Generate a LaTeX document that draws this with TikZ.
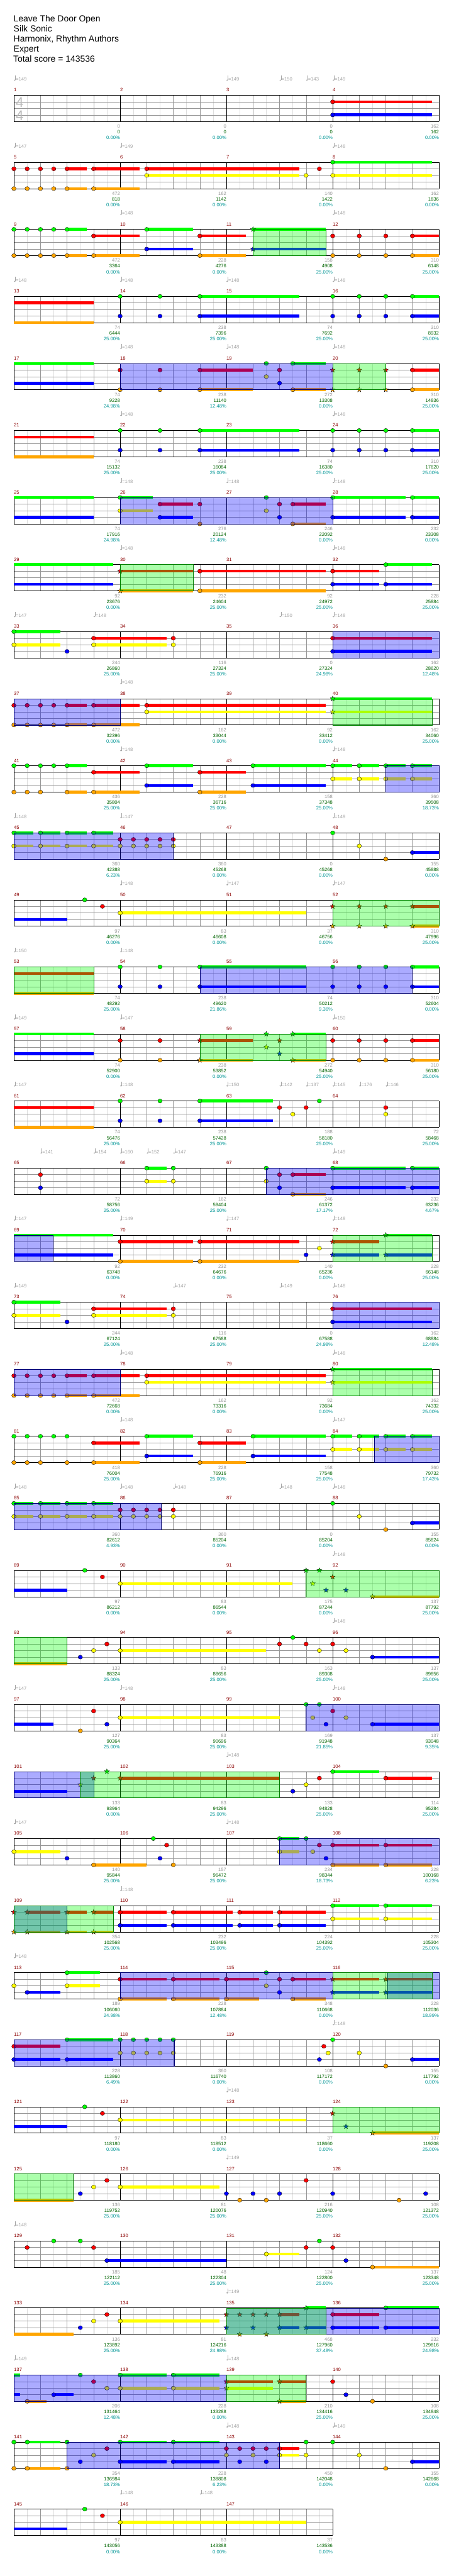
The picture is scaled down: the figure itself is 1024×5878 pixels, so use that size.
\documentclass[tikz,border=0pt]{standalone}
\usepackage{fontspec}
\setmainfont{Liberation Sans}
\definecolor{fret0}{RGB}{0,255,0}
\definecolor{fret1}{RGB}{255,0,0}
\definecolor{fret2}{RGB}{255,255,0}
\definecolor{fret3}{RGB}{0,0,255}
\definecolor{fret4}{RGB}{255,165,0}
\definecolor{barred}{RGB}{139,0,0}
\definecolor{tempogray}{RGB}{165,165,165}
\definecolor{gaingray}{RGB}{150,150,150}
\definecolor{sumgreen}{RGB}{0,100,0}
\definecolor{pctteal}{RGB}{0,150,150}
\definecolor{c8th}{RGB}{222,222,222}
\definecolor{cbeat}{RGB}{150,150,150}

\newcommand\staff[1][16]{%
  \pgfmathtruncatemacro\lastbeat{#1-1}%
  \pgfmathtruncatemacro\lastbar{#1/4-1}%
  \foreach \i in {1,...,#1} \draw[subline] (\i-0.5,0) -- (\i-0.5,4);
  \foreach \i in {1,...,\lastbeat} \draw[beatline] (\i,0) -- (\i,4);
  \foreach \i in {1,2,3} \draw[laneline] (0,\i) -- (#1,\i);
  \foreach \i in {0,...,\lastbar} {%
    \draw[barline] (4*\i,0) -- (4*\i,4);
    \pgfmathtruncatemacro\mnum{4*\rowno-3+\i}%
    \node[barnum] (m\mnum) at (4*\i,-0.53) {\mnum};}
  \draw[barline] (#1,0) -- (#1,4);
  \draw[barline] (0,0) -- (#1,0) (0,4) -- (#1,4);
}
\newcommand\sus[1]{\foreach \f/\s/\e in {#1} \fill[fret\f] (\s,\f-0.22) rectangle (\e,\f+0.22);}
\newcommand\gems[1]{\foreach \f/\s in {#1} \filldraw[gem, fill=fret\f] (\s,\f) ellipse [x radius=5pt, y radius=4.6pt];}
\newcommand\stars[1]{\foreach \f/\s in {#1} \filldraw[gem, fill=fret\f, shift={(\s,\f)}]
  (90:6pt) -- (126:2.5pt) -- (162:6pt) -- (198:2.5pt) -- (234:6pt) -- (270:2.5pt)
  -- (306:6pt) -- (342:2.5pt) -- (18:6pt) -- (54:2.5pt) -- cycle;}
\newcommand\odzone[2]{\filldraw[odfill] (#1,0) rectangle (#2,4);}
\newcommand\spzone[2]{\filldraw[spfill] (#1,0) rectangle (#2,4);}
\newcommand\tempos[1]{\foreach \s/\v [count=\k] in {#1} {%
  \fill[tempogray] ([xshift=1.8pt,yshift=1.4pt]\s,-2.2) ellipse [x radius=1.9pt, y radius=1.4pt];
  \draw[tempogray, line width=0.6pt] ([xshift=3.4pt,yshift=1.4pt]\s,-2.2) -- ++(0,10pt);
  \node[tempo] (t\rowno-\k) at ([xshift=4.3pt]\s,-2.2) {=\v};}}
\newcommand\scores[1]{\foreach \va/\vb/\vc [count=\k] in {#1} {%
  \node[gsc] (g\rowno-\k) at (4*\k,5) {\va};
  \node[csc] (c\rowno-\k) at (4*\k,5.867) {\vb};
  \node[psc] (p\rowno-\k) at (4*\k,6.733) {\vc\%};}}

\begin{document}
\begin{tikzpicture}[
    x=1pt, y=-1pt,
    subline/.style={draw=c8th, line width=0.7pt},
    beatline/.style={draw=cbeat, line width=0.7pt},
    laneline/.style={draw=cbeat, line width=0.8pt},
    barline/.style={draw=black, line width=0.9pt},
    barnum/.style={anchor=base west, inner sep=0pt, text=barred, font=\fontsize{11}{13}\selectfont},
    tempo/.style={anchor=base west, inner sep=0pt, text=tempogray, font=\fontsize{11}{13}\selectfont},
    gem/.style={draw=black, line width=0.5pt},
    odfill/.style={fill=fret3, fill opacity=0.33, draw=fret3!45!black, line width=0.8pt},
    spfill/.style={fill=fret0, fill opacity=0.33, draw=fret0!50!black, line width=0.8pt},
    gsc/.style={anchor=base east, inner sep=0pt, text=gaingray, font=\fontsize{11}{13}\selectfont},
    csc/.style={anchor=base east, inner sep=0pt, text=sumgreen, font=\fontsize{11}{13}\selectfont},
    psc/.style={anchor=base east, inner sep=0pt, text=pctteal, font=\fontsize{11}{13}\selectfont},
    tsig/.style={inner sep=0pt, text=gray!55, font=\fontsize{32}{32}\selectfont},
    headline/.style={anchor=base west, inner sep=0pt, font=\fontsize{20}{24}\selectfont},
    chartrow/.style={xshift=31.7pt, yshift={-(217.3+153*(#1-1))*1pt}, x=60.62pt, y=-15pt,
      /utils/exec={\def\rowno{#1}}},
  ]
  \useasboundingbox (0,0) rectangle (1024,5878);
  \fill[white] (0,0) rectangle (1024,5878);

  \node[headline] (song) at (31,49.3) {Leave The Door Open};
  \node[headline] (artist) at (31,72.3) {Silk Sonic};
  \node[headline] (charter) at (31,95.3) {Harmonix, Rhythm Authors};
  \node[headline] (level) at (31,118.3) {Expert};
  \node[headline] (total) at (30,141.5) {Total score = 143536};

  \begin{scope}[chartrow=1]
    \staff
    \node[tsig] (ts1) at (0.22,1.07) {4};
    \node[tsig] (ts2) at (0.22,3.07) {4};
    \sus{1/12/15.74,3/12/15.74}
    \gems{1/12,3/12}
    \tempos{0/149,8/149,10/150,11/143,12/149}
    \scores{0/0/0.00,0/0/0.00,0/0/0.00,162/162/0.00}
  \end{scope}

  \begin{scope}[chartrow=2]
    \staff
    \sus{1/2/2.74,1/3/4.74,1/5/10.74,4/2/2.74,4/3/4.74,2/5/10.74,2/12/15.74,0/12/15.74}
    \gems{1/0,1/0.5,1/1,1/1.5,1/2,1/3,1/5,1/11.5,4/0,4/0.5,4/1,4/1.5,4/2,4/3,2/5,2/11,2/12,0/12}
    \tempos{0/147,4/149,12/148}
    \scores{472/818/0.00,162/1142/0.00,140/1422/0.00,162/1836/0.00}
  \end{scope}

  \begin{scope}[chartrow=3]
    \staff
    \sus{0/2/2.74,0/5/6.74,0/9/11.74,1/3/4.74,1/7/8.74,1/15/16,3/5/6.74,3/9/11.74,4/2/2.74,4/3/4.74,4/7/8.74,4/15/16}
    \gems{0/0,0/0.5,0/1,0/1.5,0/2,0/5,1/3,1/7,1/12,1/13,1/14,1/15,3/5,4/0,4/0.5,4/1,4/1.5,4/2,4/3,4/7,4/12,4/13,4/14,4/15}
    \stars{0/9,3/9}
    \spzone{9}{11.74}
    \tempos{4/148,12/148}
    \scores{472/3364/0.00,228/4276/0.00,158/4908/25.00,310/6148/25.00}
  \end{scope}

  \begin{scope}[chartrow=4]
    \staff
    \sus{1/0/3,4/0/3,0/7/10.74,0/15/16,3/7/10.74,3/15/16}
    \gems{0/4,0/5.5,0/7,0/12,0/13,0/14,0/15,3/4,3/5.5,3/7,3/12,3/13,3/14,3/15}
    \tempos{0/148,4/148,8/148,12/148}
    \scores{74/6444/25.00,238/7396/25.00,74/7692/25.00,310/8932/25.00}
  \end{scope}

  \begin{scope}[chartrow=5]
    \staff
    \sus{0/0/3,3/0/3,1/7/9,4/7/9,0/10.5/11.74,4/10.5/11.74,1/15/16,4/15/16}
    \gems{1/4,1/5.5,1/7,1/10,1/15,4/4,4/5.5,4/7,4/10.5,4/15,0/9.5,0/10.5,2/9.5,3/10}
    \stars{1/12,1/13,1/14,4/12,4/13,4/14}
    \odzone{4}{12}
    \spzone{12}{14}
    \tempos{4/148,8/148,12/148}
    \scores{74/9228/24.98,238/11140/12.48,272/13308/0.00,310/14836/25.00}
  \end{scope}

  \begin{scope}[chartrow=6]
    \staff
    \sus{1/0/3,4/0/3,0/7/10.74,0/15/16,3/7/10.74,3/15/16}
    \gems{0/4,0/5.5,0/7,0/12,0/13,0/14,0/15,3/4,3/5.5,3/7,3/12,3/13,3/14,3/15}
    \tempos{4/148,12/148}
    \scores{74/15132/25.00,238/16084/25.00,74/16380/25.00,310/17620/25.00}
  \end{scope}

  \begin{scope}[chartrow=7]
    \staff
    \sus{0/0/3,3/0/3,0/4/5.24,2/4/5.24,1/5.5/6.74,3/5.5/6.74,1/10.5/11.74,4/10.5/11.74,0/12/14.74,3/12/14.74,0/15/16,3/15/16}
    \gems{0/4,0/9.5,0/12,0/15,2/4,2/9.5,1/5.5,1/7,1/10,1/10.5,3/5.5,3/10,3/12,3/15,4/7,4/10.5}
    \odzone{4}{12}
    \tempos{4/148,8/148,12/148}
    \scores{74/17916/24.98,276/20124/12.48,246/22092/0.00,232/23308/0.00}
  \end{scope}

  \begin{scope}[chartrow=8]
    \staff
    \sus{0/0/3.74,3/0/3.74,1/4/6.74,4/4/6.74,1/7/11.74,4/7/11.74,1/12/13.74,3/12/13.74,0/14/15.74,3/14/15.74}
    \gems{1/7,4/7,1/12,3/12,0/14,3/14}
    \stars{1/4,4/4}
    \spzone{4}{6.74}
    \tempos{4/148,12/148}
    \scores{92/23676/0.00,232/24604/25.00,92/24972/25.00,228/25884/25.00}
  \end{scope}

  \begin{scope}[chartrow=9]
    \staff
    \sus{0/0/1.74,2/0/1.74,2/3/5.74,1/3/5.74,1/12/15.74,3/12/15.74}
    \gems{0/0,2/0,3/2,1/3,2/3,1/6,2/6,1/12,3/12}
    \odzone{12}{16}
    \tempos{0/147,3/148,10/150,12/148}
    \scores{244/26860/25.00,116/27324/25.00,0/27324/24.98,162/28620/12.48}
  \end{scope}

  \begin{scope}[chartrow=10]
    \staff
    \sus{1/2/2.74,1/3/4.74,1/5/11.74,4/2/2.74,4/3/4.74,2/5/11.74,0/12/15.74,2/12/15.74}
    \gems{1/0,1/0.5,1/1,1/1.5,1/2,1/3,1/5,4/0,4/0.5,4/1,4/1.5,4/2,4/3,2/5}
    \stars{0/12,2/12}
    \odzone{0}{4}
    \spzone{12}{15.74}
    \tempos{4/148}
    \scores{472/32396/0.00,162/33044/0.00,92/33412/0.00,162/34060/25.00}
  \end{scope}

  \begin{scope}[chartrow=11]
    \staff
    \sus{0/2/2.74,0/5/6.74,0/9/11.74,0/12/12.74,0/13/13.74,0/14/14.74,0/15/15.74,1/3/4.74,1/7/8.74,2/12/12.74,2/13/13.74,2/14/14.74,2/15/15.74,3/5/6.74,3/9/11.74,4/2/2.74,4/3/4.74,4/7/8.74}
    \gems{0/0,0/0.5,0/1,0/1.5,0/2,0/5,0/9,0/12,0/13,0/14,0/15,1/3,1/7,2/12,2/13,2/14,2/15,3/5,3/9,4/0,4/0.5,4/1,4/2,4/3,4/7}
    \odzone{14}{16}
    \tempos{4/148,12/148}
    \scores{436/35804/25.00,228/36716/25.00,158/37348/25.00,360/39508/18.73}
  \end{scope}

  \begin{scope}[chartrow=12]
    \staff
    \sus{0/0/0.74,0/1/1.74,0/2/2.74,0/3/3.74,2/0/0.74,2/1/1.74,2/2/2.74,2/3/3.74,3/15/16}
    \gems{0/0,0/1,0/2,0/3,0/12,2/0,2/1,2/2,2/3,2/4,2/4.5,2/5,2/5.5,2/6,2/13,1/4,1/4.5,1/5,1/5.5,1/6,3/15,4/14}
    \odzone{0}{6}
    \tempos{0/148,4/147,12/149}
    \scores{360/42388/6.23,360/45268/0.00,0/45268/0.00,155/45888/0.00}
  \end{scope}

  \begin{scope}[chartrow=13]
    \staff
    \sus{3/0/2,2/4/11,1/15/16,4/15/16}
    \gems{0/2.667,1/3.333,2/4}
    \stars{1/12,1/13,1/14,1/15,4/12,4/13,4/14,4/15}
    \spzone{12}{16}
    \tempos{4/148,8/147,12/147}
    \scores{97/46276/0.00,83/46608/0.00,37/46756/0.00,310/47996/25.00}
  \end{scope}

  \begin{scope}[chartrow=14]
    \staff
    \sus{1/0/3,4/0/3,0/7/11,3/7/11,0/15/16,3/15/16}
    \gems{0/4,0/5.5,0/7,0/12,0/13,0/14,0/15,3/4,3/5.5,3/7,3/12,3/13,3/14,3/15}
    \spzone{0}{3}
    \odzone{7}{15}
    \tempos{0/150,4/148}
    \scores{74/48292/25.00,238/49620/21.86,74/50212/9.36,310/52604/0.00}
  \end{scope}

  \begin{scope}[chartrow=15]
    \staff
    \sus{0/0/3,3/0/3,1/7/9,4/7/9,0/10.5/11.74,4/10.5/11.74,1/15/16,4/15/16}
    \gems{1/4,1/5.5,1/12,1/13,1/14,1/15,4/4,4/5.5,4/12,4/13,4/14,4/15}
    \stars{1/7,4/7,0/9.5,2/9.5,1/10,3/10,0/10.5,4/10.5}
    \spzone{7}{11.74}
    \tempos{0/149,4/147,12/150}
    \scores{74/52900/0.00,238/53852/0.00,272/54940/25.00,310/56180/25.00}
  \end{scope}

  \begin{scope}[chartrow=16]
    \staff
    \sus{1/0/3,4/0/3,0/7/9.74,3/7/9.74}
    \gems{0/4,0/5.5,0/7,0/11.5,3/4,3/5.5,3/7,1/10,1/11,1/14,2/10.5,2/14}
    \tempos{0/147,4/148,8/150,10/142,11/137,12/145,13/176,14/146}
    \scores{74/56476/25.00,238/57428/25.00,188/58180/25.00,72/58468/25.00}
  \end{scope}

  \begin{scope}[chartrow=17]
    \staff
    \sus{0/5/5.74,2/5/5.74,1/10.5/11.74,4/10.5/11.74,0/12/14.74,3/12/14.74,0/15/16,3/15/16}
    \gems{1/1,3/1,0/5,0/6,0/9.5,0/12,0/15,2/5,2/6,2/9.5,1/10,1/10.5,3/10,3/12,3/15,4/10.5}
    \odzone{9.5}{16}
    \tempos{1/141,3/154,4/160,5/152,6/147,12/149}
    \scores{72/58756/25.00,162/59404/25.00,246/61372/17.17,232/63236/4.67}
  \end{scope}

  \begin{scope}[chartrow=18]
    \staff
    \sus{0/0/3.74,3/0/3.74,1/4/6.74,1/7/10.74,4/4/6.74,4/7/10.74,1/12/13.74,3/12/13.74,3/14/15.74,0/14/15.74}
    \gems{1/4,1/7,4/4,4/7,3/11,2/11.5}
    \stars{1/12,3/12,3/14,0/14}
    \odzone{0}{1.48}
    \spzone{12}{15.74}
    \tempos{0/147,4/149,8/147,12/148}
    \scores{92/63748/0.00,232/64676/0.00,140/65236/0.00,228/66148/25.00}
  \end{scope}

  \begin{scope}[chartrow=19]
    \staff
    \sus{0/0/1.74,2/0/1.74,2/3/5.74,1/3/5.74,1/12/15.74,3/12/15.74}
    \gems{0/0,2/0,3/2,1/3,2/3,1/6,2/6,1/12,3/12}
    \odzone{12}{16}
    \tempos{0/149,6/147,10/149,12/148}
    \scores{244/67124/25.00,116/67588/25.00,0/67588/24.98,162/68884/12.48}
  \end{scope}

  \begin{scope}[chartrow=20]
    \staff
    \sus{1/2/2.74,1/3/4.74,1/5/11.74,4/2/2.74,4/3/4.74,2/5/11.74,0/12/15.74,2/12/15.74}
    \gems{1/0,1/0.5,1/1,1/1.5,1/2,1/3,1/5,4/0,4/0.5,4/1,4/1.5,4/2,4/3,2/5}
    \stars{0/12,2/12}
    \odzone{0}{4}
    \spzone{12}{15.74}
    \tempos{4/148,12/148}
    \scores{472/72668/0.00,162/73316/0.00,92/73684/0.00,162/74332/25.00}
  \end{scope}

  \begin{scope}[chartrow=21]
    \staff
    \sus{0/5/6.74,0/9/11.74,0/12/12.74,0/13/13.74,0/14/14.74,0/15/15.74,1/3/4.74,1/7/8.74,2/12/12.74,2/13/13.74,2/14/14.74,2/15/15.74,3/5/6.74,3/9/11.74,4/3/4.74,4/7/8.74}
    \gems{0/0,0/0.5,0/1,0/1.5,0/2,0/5,0/9,0/12,0/13,0/14,0/15,1/3,1/7,2/12,2/13,2/14,2/15,3/5,3/9,4/0,4/0.5,4/1,4/2,4/3,4/7}
    \odzone{13.56}{16}
    \tempos{4/148,12/147}
    \scores{418/76004/25.00,228/76916/25.00,158/77548/25.00,360/79732/17.43}
  \end{scope}

  \begin{scope}[chartrow=22]
    \staff
    \sus{0/0/0.74,0/1/1.74,0/2/2.74,0/3/3.74,2/0/0.74,2/1/1.74,2/2/2.74,2/3/3.74,3/15/16}
    \gems{0/0,0/1,0/2,0/3,0/12,2/0,2/1,2/2,2/3,2/4,2/4.5,2/5,2/5.5,2/6,2/13,1/4,1/4.5,1/5,1/5.5,1/6,3/15,4/14}
    \odzone{0}{5.55}
    \tempos{0/148,4/148,6/148,10/148,12/148}
    \scores{360/82612/4.93,360/85204/0.00,0/85204/0.00,155/85824/0.00}
  \end{scope}

  \begin{scope}[chartrow=23]
    \staff
    \sus{3/0/2,2/4/10.49,4/13.5/16}
    \gems{0/2.667,1/3.333,2/4}
    \stars{0/11,0/11.5,2/11.25,1/12,3/11.75,3/12.5,4/13.5}
    \spzone{11}{16}
    \tempos{12/148}
    \scores{97/86212/0.00,83/86544/0.00,175/87244/0.00,137/87792/25.00}
  \end{scope}

  \begin{scope}[chartrow=24]
    \staff
    \sus{4/0/2,2/4/9.49,3/13.5/16}
    \gems{3/2.5,2/3,1/3.5,2/4,1/10,0/10.5,1/11,2/11.5,1/12,2/12.5,3/13.5}
    \spzone{0}{2}
    \tempos{12/148}
    \scores{133/88324/25.00,83/88656/25.00,163/89308/25.00,137/89856/25.00}
  \end{scope}

  \begin{scope}[chartrow=25]
    \staff
    \sus{3/0/1.49,2/4/10,3/13.5/16}
    \gems{4/2.5,1/3,3/3.5,2/4,0/11,0/11.5,2/11.25,2/12.5,1/12,3/11.75,3/13.5}
    \odzone{11}{16}
    \tempos{0/147,4/148,12/148}
    \scores{127/90364/25.00,83/90696/25.00,169/91948/21.85,137/93048/9.35}
  \end{scope}

  \begin{scope}[chartrow=26]
    \staff
    \sus{3/0/2,1/4/10,0/12/13.74,1/14/15.74}
    \gems{3/10.5,2/11,1/11.5,0/12,1/14}
    \stars{2/2.5,1/3,0/3.5,1/4}
    \odzone{0}{3}
    \spzone{2.5}{10}
    \tempos{8/148}
    \scores{133/93964/0.00,83/94296/25.00,133/94828/25.00,114/95284/25.00}
  \end{scope}

  \begin{scope}[chartrow=27]
    \staff
    \sus{2/0/1.74,4/3/5,0/10/10.74,2/10/10.74,1/12/13.74,1/14/15.74,4/12/13.74,4/14/15.74}
    \gems{2/0,3/2,4/3,0/5.25,3/5.5,1/5.75,4/6,0/10,2/10,0/11,2/11.25,1/11.5,3/11.75,1/12,1/14,4/12,4/14}
    \odzone{10}{16}
    \tempos{0/147,8/148}
    \scores{140/95844/25.00,157/96472/25.00,234/98344/18.73,228/100168/6.23}
  \end{scope}

  \begin{scope}[chartrow=28]
    \staff
    \sus{1/0.5/1.74,1/2/2.74,1/3/3.74,4/0.5/1.74,4/2/2.74,4/3/3.74,1/4/5.74,1/6/8.24,1/8.5/9.74,1/10/11.74,3/4/5.74,3/6/8.24,3/8.5/9.74,3/10/11.74,0/12/13.74,0/14/15.74,2/12/13.74,2/14/15.74}
    \gems{1/4,1/6,1/8.5,1/10,3/4,3/6,3/8.5,3/10,0/12,0/14,2/12,2/14}
    \stars{1/0,1/0.5,1/2,1/3,4/0,4/0.5,4/2,4/3}
    \odzone{0}{2}
    \spzone{0}{3.74}
    \tempos{4/148}
    \scores{354/102568/25.00,232/103496/25.00,224/104392/25.00,228/105304/25.00}
  \end{scope}

  \begin{scope}[chartrow=29]
    \staff
    \sus{2/2/3.24,3/0.5/1.74,0/2/3.24,1/4/5.74,1/6/7.74,1/8/9.24,1/10.5/11.74,1/12/13.74,1/14/15.74,4/4/5.74,4/6/7.74,4/8/9.24,4/10.5/11.74,3/12/13.74,3/14/15.74}
    \gems{2/0,2/2,3/0.5,0/2,0/9.5,1/4,1/6,1/8,1/10,1/10.5,4/4,4/6,4/8,4/10.5,2/9.5,3/10}
    \stars{1/12,1/14,3/12,3/14}
    \odzone{4}{12}
    \odzone{14.06}{16}
    \spzone{12}{15.74}
    \tempos{0/148}
    \scores{189/106060/24.98,228/107884/12.48,348/110668/0.00,228/112036/18.99}
  \end{scope}

  \begin{scope}[chartrow=30]
    \staff
    \sus{1/0/1.74,3/0/1.74,3/2/3.74,0/2/3.74,3/15/16}
    \gems{1/0,3/0,3/2,0/2,0/4,0/4.5,0/5,0/5.5,0/6,2/4,2/4.5,2/5,2/5.5,2/6,3/11.5,1/11.667,2/11.833,0/12,2/13,4/14,3/15}
    \odzone{0}{6.05}
    \tempos{12/148}
    \scores{228/113860/6.49,360/116740/0.00,108/117172/0.00,155/117792/0.00}
  \end{scope}

  \begin{scope}[chartrow=31]
    \staff
    \sus{3/0/2,2/4/11,4/13.5/16}
    \gems{0/2.667,1/3.333,2/4}
    \stars{1/12,3/12.5,4/13.5}
    \spzone{12}{16}
    \tempos{8/148}
    \scores{97/118180/0.00,83/118512/0.00,37/118660/0.00,137/119208/25.00}
  \end{scope}

  \begin{scope}[chartrow=32]
    \staff
    \sus{4/0/2.24,2/4/7.74}
    \gems{3/2.5,2/3,1/3.5,2/4,3/8,3/9,3/10,3/12,3/15.5,1/11,4/8.5,4/9.5,4/14.5}
    \spzone{0}{2.24}
    \tempos{8/149}
    \scores{136/119752/25.00,81/120076/25.00,216/120940/25.00,108/121372/25.00}
  \end{scope}

  \begin{scope}[chartrow=33]
    \staff
    \sus{3/3.5/8,2/9.5/10.74,4/13.5/16}
    \gems{1/0.5,1/3,1/11,1/12,0/1.5,0/2.5,0/11.5,3/3.5,3/12.5,2/9.5,4/13.5}
    \tempos{0/148}
    \scores{185/122112/25.00,48/122304/25.00,124/122800/25.00,137/123348/25.00}
  \end{scope}

  \begin{scope}[chartrow=34]
    \staff
    \sus{4/0/2.24,2/4/7.74,1/10/10.74,3/10/10.74,3/11/11.74,0/11/11.74,1/12/13.74,3/12/13.74,3/14/16,0/14/16}
    \gems{3/2.5,2/3,1/3.5,2/4,1/12,3/12,3/14,0/14}
    \stars{1/8,1/8.5,1/9,1/9.5,1/10,3/8,3/9,3/10,3/11,4/8.5,4/9.5,0/11}
    \odzone{8}{16}
    \spzone{8}{11.74}
    \tempos{8/149}
    \scores{136/123892/25.00,81/124216/24.98,468/127960/37.48,232/129816/24.98}
  \end{scope}

  \begin{scope}[chartrow=35]
    \staff
    \sus{0/0/0.24,3/0/0.24,4/0.5/1.24,3/1.5/2.24,0/4/5.74,0/6/7.74,2/4/5.74,2/6/7.74,1/8/9.74,2/8/9.74,1/10/11,4/10/11}
    \gems{4/0.5,3/1.5,0/2.5,1/3,2/3.5,0/4,0/6,2/4,2/6,1/12,3/12.5,4/13.5}
    \stars{1/8,2/8,1/10,4/10}
    \odzone{0}{8}
    \spzone{8}{11}
    \tempos{0/149,8/148}
    \scores{206/131464/12.48,228/133288/0.00,210/134416/25.00,108/134848/25.00}
  \end{scope}

  \begin{scope}[chartrow=36]
    \staff
    \sus{0/0.5/1.74,4/0.5/1.74,0/4/5.74,0/6/7.74,3/4/5.74,3/6/7.74,1/10/10.74,2/10/10.74,3/15/16}
    \gems{0/0,0/0.5,0/2,0/4,0/6,0/11,0/12,4/0,4/0.5,4/2,4/14,1/3.5,1/8,1/8.5,1/9,1/9.5,1/10,2/3,2/8,2/9,2/10,2/11,2/13,3/2.5,3/4,3/6,3/8.5,3/9.5,3/15}
    \odzone{2}{10}
    \tempos{8/148,12/149}
    \scores{354/136984/18.73,228/138808/6.23,450/142048/0.00,155/142668/0.00}
  \end{scope}

  \begin{scope}[chartrow=37]
    \staff[12]
    \sus{3/0/2,2/4/11}
    \gems{0/2.667,1/3.333,2/4}
    \tempos{4/148,7/148}
    \scores{97/143056/0.00,83/143388/0.00,37/143536/0.00}
  \end{scope}
\end{tikzpicture}
\end{document}
